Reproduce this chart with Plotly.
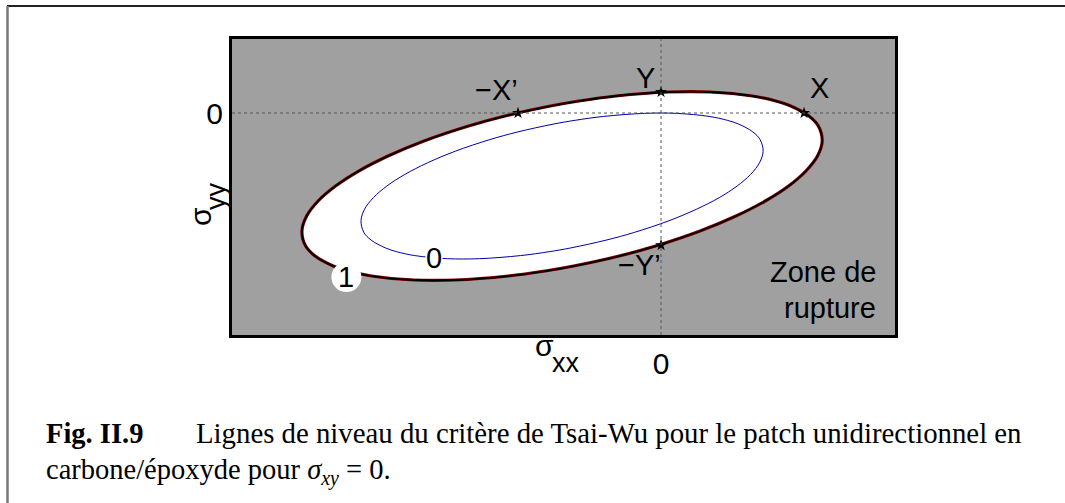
"""
Tsai-Wu level lines for a unidirectional carbon/epoxy patch (sigma_xy = 0).
Contours traced from the figure; axes in units of X (horizontal) and Y (vertical).
"""
import plotly.graph_objects as go

W, H = 1065, 503
ML, MR, MT, MB = 232, 170, 39, 168

# level line "1" (failure envelope), traced around the ellipse
outer_x = [-1.440, -1.069, -0.810, -0.611, -0.293, -0.038, 0.273, 0.524, 0.729, 0.892,
           1.013, 1.094, 1.127, 1.100, 1.034, 0.907, 0.803, 0.639, 0.343,
           0.055, -0.316, -0.575, -0.774, -1.092, -1.346, -1.658, -1.909, -2.114, -2.276,
           -2.398, -2.478, -2.511, -2.485, -2.419, -2.292, -2.188, -2.024, -1.728, -1.440]
outer_y = [-7.952, -7.762, -7.524, -7.286, -6.810, -6.333, -5.619, -4.905, -4.190, -3.476,
           -2.762, -2.048, -1.333, -0.619, -0.143, 0.333, 0.571, 0.810, 1.0,
           1.0, 0.810, 0.571, 0.333, -0.143, -0.619, -1.333, -2.048, -2.762, -3.476,
           -4.190, -4.905, -5.619, -6.333, -6.810, -7.286, -7.524, -7.762, -7.952, -7.952]

# level line "0" (passes through the origin)
inner_x = [-1.270, -0.983, -0.783, -0.629, -0.384, -0.187, 0.054, 0.248, 0.407, 0.532,
           0.626, 0.688, 0.714, 0.693, 0.642, 0.544, 0.463, 0.337, 0.108,
           -0.114, -0.401, -0.601, -0.755, -1.001, -1.198, -1.439, -1.633, -1.791, -1.917,
           -2.011, -2.073, -2.098, -2.078, -2.027, -1.928, -1.848, -1.722, -1.493, -1.270]
inner_y = [-6.936, -6.789, -6.605, -6.421, -6.053, -5.685, -5.133, -4.581, -4.029, -3.476,
           -2.924, -2.372, -1.820, -1.268, -0.900, -0.531, -0.347, -0.163, -0.016,
           -0.016, -0.163, -0.347, -0.531, -0.900, -1.268, -1.820, -2.372, -2.924, -3.476,
           -4.029, -4.581, -5.133, -5.685, -6.053, -6.421, -6.605, -6.789, -6.936, -6.936]

# strength points
pt_names = ["\u2212X\u2019", "X", "Y", "\u2212Y\u2019"]
pt_x = [-1.0, 1.0, 0.0, 0.0]
pt_y = [0.0, 0.0, 1.0, -6.29]
pt_lab_x = [-1.15, 1.11, -0.11, -0.15]
pt_lab_y = [1.10, 1.19, 1.67, -7.24]

# contour level labels
lvl_text = ["0", "1"]
lvl_x = [-1.59, -2.20]
lvl_y = [-6.90, -7.81]

x_range = [-3.0, 1.636]
y_range = [-10.57, 3.524]


def px(x):
    return (x - ML) / (W - ML - MR)


def py(y):
    return (H - MB - y) / (H - MT - MB)


SANS = "Liberation Sans, Arial, sans-serif"
SERIF = "Liberation Serif, Times New Roman, serif"


def note(x, y, text, size=29, family=SANS, **kw):
    opts = dict(xref="paper", yref="paper", showarrow=False, xanchor="center",
                yanchor="middle", borderpad=0)
    opts.update(kw)
    fig.add_annotation(x=px(x), y=py(y), text=text,
                       font=dict(family=family, size=size, color="black"), **opts)


fig = go.Figure()
fig.add_trace(go.Scatter(
    x=outer_x, y=outer_y, mode="lines", fill="toself", fillcolor="white",
    line=dict(color="#8b0000", width=3.2, shape="spline", smoothing=1.0),
    hoverinfo="skip"))
fig.add_trace(go.Scatter(
    x=outer_x, y=outer_y, mode="lines",
    line=dict(color="black", width=1.8, shape="spline", smoothing=1.0),
    hoverinfo="skip"))
fig.add_trace(go.Scatter(
    x=inner_x, y=inner_y, mode="lines",
    line=dict(color="#0000a8", width=1, shape="spline", smoothing=1.0),
    hoverinfo="skip"))

# dotted zero lines drawn over the fill
fig.add_shape(type="line", x0=0, x1=0, y0=0, y1=1, xref="x", yref="y domain",
              line=dict(color="#555", width=1, dash="dot"), layer="above")
fig.add_shape(type="line", x0=0, x1=1, y0=0, y1=0, xref="x domain", yref="y",
              line=dict(color="#555", width=1, dash="dot"), layer="above")

fig.add_trace(go.Scatter(
    x=pt_x, y=pt_y, mode="markers",
    marker=dict(symbol="star", size=9, color="black"), hoverinfo="skip"))

# white blob behind the "1" label
fig.add_trace(go.Scatter(
    x=lvl_x[1:], y=lvl_y[1:], mode="markers",
    marker=dict(symbol="circle", size=30, color="white"), hoverinfo="skip"))

for t, x, y in zip(pt_names, pt_lab_x, pt_lab_y):
    fig.add_annotation(x=x, y=y, text=t, showarrow=False,
                       font=dict(family=SANS, size=29, color="black"))
for i, (t, x, y) in enumerate(zip(lvl_text, lvl_x, lvl_y)):
    fig.add_annotation(x=x, y=y, text=t, showarrow=False, borderpad=0,
                       bgcolor="white" if i == 0 else None,
                       font=dict(family=SANS, size=29, color="black"))

note(877, 272, "Zone de", xanchor="right")
note(877, 308, "rupture", xanchor="right")

# axis labels
note(544, 346, "\u03c3", size=30)
note(566, 363, "xx", size=27)
note(200, 217, "\u03c3", size=30, textangle=-90)
note(216, 196, "yy", size=27, textangle=-90)

# caption
note(45, 433, "<b>Fig. II.9</b>", size=28.5, family=SERIF, xanchor="left")
note(195, 433, "Lignes de niveau du crit\u00e8re de Tsai-Wu pour le patch unidirectionnel en",
     size=28.8, family=SERIF, xanchor="left")
note(45, 472, "carbone/\u00e9poxyde pour <i>\u03c3<sub>xy</sub></i> = 0.",
     size=28.5, family=SERIF, xanchor="left")

# page frame (top and left rules)
fig.add_shape(type="line", xref="paper", yref="paper", x0=px(7), x1=px(1065),
              y0=py(6), y1=py(6), line=dict(color="#222", width=2))
fig.add_shape(type="line", xref="paper", yref="paper", x0=px(7.5), x1=px(7.5),
              y0=py(6), y1=py(503), line=dict(color="#777", width=2.5))

fig.update_xaxes(range=x_range, tickvals=[0], ticktext=["0"], showgrid=False, zeroline=False,
                 showline=True, mirror=True, linecolor="black", linewidth=3, ticks="",
                 tickfont=dict(family=SANS, size=30, color="black"))
fig.update_yaxes(range=y_range, tickvals=[0], ticktext=["0"], showgrid=False, zeroline=False,
                 showline=True, mirror=True, linecolor="black", linewidth=3, ticks="",
                 tickfont=dict(family=SANS, size=30, color="black"))
fig.update_layout(
    width=W, height=H, showlegend=False,
    margin=dict(l=ML, r=MR, t=MT, b=MB),
    plot_bgcolor="#a0a0a0", paper_bgcolor="white",
)
fig.write_html("out.html", config={"displayModeBar": False},
               post_script="document.body.style.margin='0';")
